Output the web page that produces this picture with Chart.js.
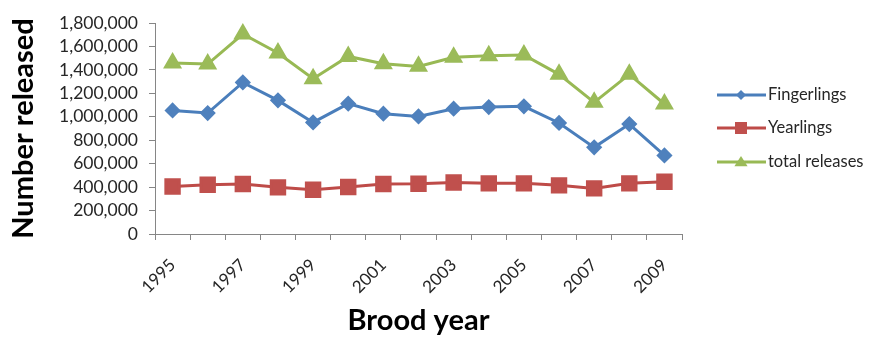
<!DOCTYPE html>
<html lang="en">

<head>
    <meta charset="UTF-8">
    <title>Brood year releases</title>
    <style>
        body {
            background-color: #ffffff;
            margin: 0;
            padding: 0;
        }

        #wrap {
            width: 869px;
            height: 339px;
        }
    </style>
</head>

<body>
    <div id="wrap"><canvas id="lineChart"></canvas></div>

    <script src="https://cdn.jsdelivr.net/npm/chart.js"></script>

    <script>
        const years = ['1995', '1996', '1997', '1998', '1999', '2000', '2001', '2002',
            '2003', '2004', '2005', '2006', '2007', '2008', '2009'];
        const fingerlings = [1054000, 1032000, 1293000, 1140000, 952000, 1112000, 1026000, 1003000,
            1069000, 1083000, 1089000, 947000, 739000, 938000, 670000];
        const yearlings = [406000, 420000, 426000, 398000, 378000, 401000, 426000, 429000,
            440000, 432000, 432000, 415000, 389000, 432000, 446000];
        const totalReleases = [1459000, 1450000, 1706000, 1544000, 1325000, 1515000, 1453000, 1430000,
            1507000, 1521000, 1527000, 1362000, 1123000, 1362000, 1109000];

        const FONT = 'Lato, "Open Sans", sans-serif';
        const AXIS_GREY = '#868686';

        // legend drawn by hand: a short line with the marker in the middle
        function drawMarker(ctx, style, x, y, r) {
            ctx.beginPath();
            if (style === 'rectRot') {
                ctx.moveTo(x, y - r);
                ctx.lineTo(x + r, y);
                ctx.lineTo(x, y + r);
                ctx.lineTo(x - r, y);
            } else if (style === 'rect') {
                ctx.rect(x - r, y - r, 2 * r, 2 * r);
            } else {
                ctx.moveTo(x, y - r);
                ctx.lineTo(x + r * 1.1, y + r * 0.7);
                ctx.lineTo(x - r * 1.1, y + r * 0.7);
            }
            ctx.closePath();
            ctx.fill();
        }

        const lineLegend = {
            id: 'lineLegend',
            afterDraw(chart) {
                const ctx = chart.ctx;
                const rows = [95, 128, 162];
                const sizes = [5, 6, 6];
                ctx.save();
                chart.data.datasets.forEach((ds, i) => {
                    const y = rows[i];
                    ctx.strokeStyle = ds.borderColor;
                    ctx.lineWidth = 3;
                    ctx.beginPath();
                    ctx.moveTo(717, y);
                    ctx.lineTo(766, y);
                    ctx.stroke();
                    ctx.fillStyle = ds.pointBackgroundColor;
                    drawMarker(ctx, ds.pointStyle, 741, y, sizes[i]);
                    ctx.fillStyle = '#262626';
                    ctx.font = '16.5px ' + FONT;
                    ctx.textBaseline = 'middle';
                    ctx.textAlign = 'left';
                    ctx.fillText(ds.label, 768, y);
                });
                ctx.restore();
            }
        };

        var ctx = document.getElementById('lineChart').getContext('2d');

        var lineChart = new Chart(ctx, {
            type: 'line',
            data: {
                labels: years,
                datasets: [
                    {
                        label: 'Fingerlings',
                        data: fingerlings,
                        borderColor: '#4A7EBB',
                        backgroundColor: '#4F81BD',
                        pointBackgroundColor: '#4F81BD',
                        pointBorderColor: '#4F81BD',
                        pointStyle: 'rectRot',
                        pointRadius: 6,
                        borderWidth: 3,
                    },
                    {
                        label: 'Yearlings',
                        data: yearlings,
                        borderColor: '#BE4B48',
                        backgroundColor: '#C0504D',
                        pointBackgroundColor: '#C0504D',
                        pointBorderColor: '#C0504D',
                        pointStyle: 'rect',
                        pointRadius: 9.5,
                        borderWidth: 3,
                    },
                    {
                        label: 'total releases',
                        data: totalReleases,
                        borderColor: '#98B954',
                        backgroundColor: '#9BBB59',
                        pointBackgroundColor: '#9BBB59',
                        pointBorderColor: '#9BBB59',
                        pointStyle: 'triangle',
                        pointRadius: 8,
                        borderWidth: 3,
                    }
                ]
            },
            options: {
                responsive: true,
                maintainAspectRatio: false,
                animation: false,
                layout: {
                    padding: { left: 0, top: 23, right: 187, bottom: 0 }
                },
                scales: {
                    x: {
                        offset: true,
                        afterFit: (s) => { s.height = 105; },
                        grid: {
                            offset: true,
                            drawOnChartArea: false,
                            tickLength: 6,
                            color: AXIS_GREY
                        },
                        border: { color: AXIS_GREY },
                        ticks: {
                            autoSkip: false,
                            minRotation: 45,
                            maxRotation: 45,
                            padding: 15,
                            color: '#262626',
                            font: { family: FONT, size: 17 },
                            callback: function (value, index) {
                                return index % 2 === 0 ? this.getLabelForValue(value) : '';
                            }
                        },
                        title: {
                            display: true,
                            text: 'Brood year',
                            color: '#000000',
                            font: { family: FONT, size: 29, weight: 'bold' },
                            padding: { top: 0, bottom: 1 }
                        }
                    },
                    y: {
                        min: 0,
                        max: 1800000,
                        afterFit: (s) => { s.width = 155; },
                        grid: {
                            drawOnChartArea: false,
                            tickLength: 6,
                            color: AXIS_GREY
                        },
                        border: { color: AXIS_GREY },
                        ticks: {
                            stepSize: 200000,
                            autoSkip: false,
                            padding: 11,
                            color: '#262626',
                            font: { family: FONT, size: 17.5 },
                            callback: (v) => v.toLocaleString('en-US')
                        },
                        title: {
                            display: true,
                            text: 'Number released',
                            color: '#000000',
                            font: { family: FONT, size: 29, weight: 'bold' },
                            padding: { top: 6, bottom: 0 }
                        }
                    }
                },
                plugins: {
                    legend: { display: false },
                    tooltip: { enabled: false }
                }
            },
            plugins: [lineLegend]
        });
    </script>
</body>

</html>
